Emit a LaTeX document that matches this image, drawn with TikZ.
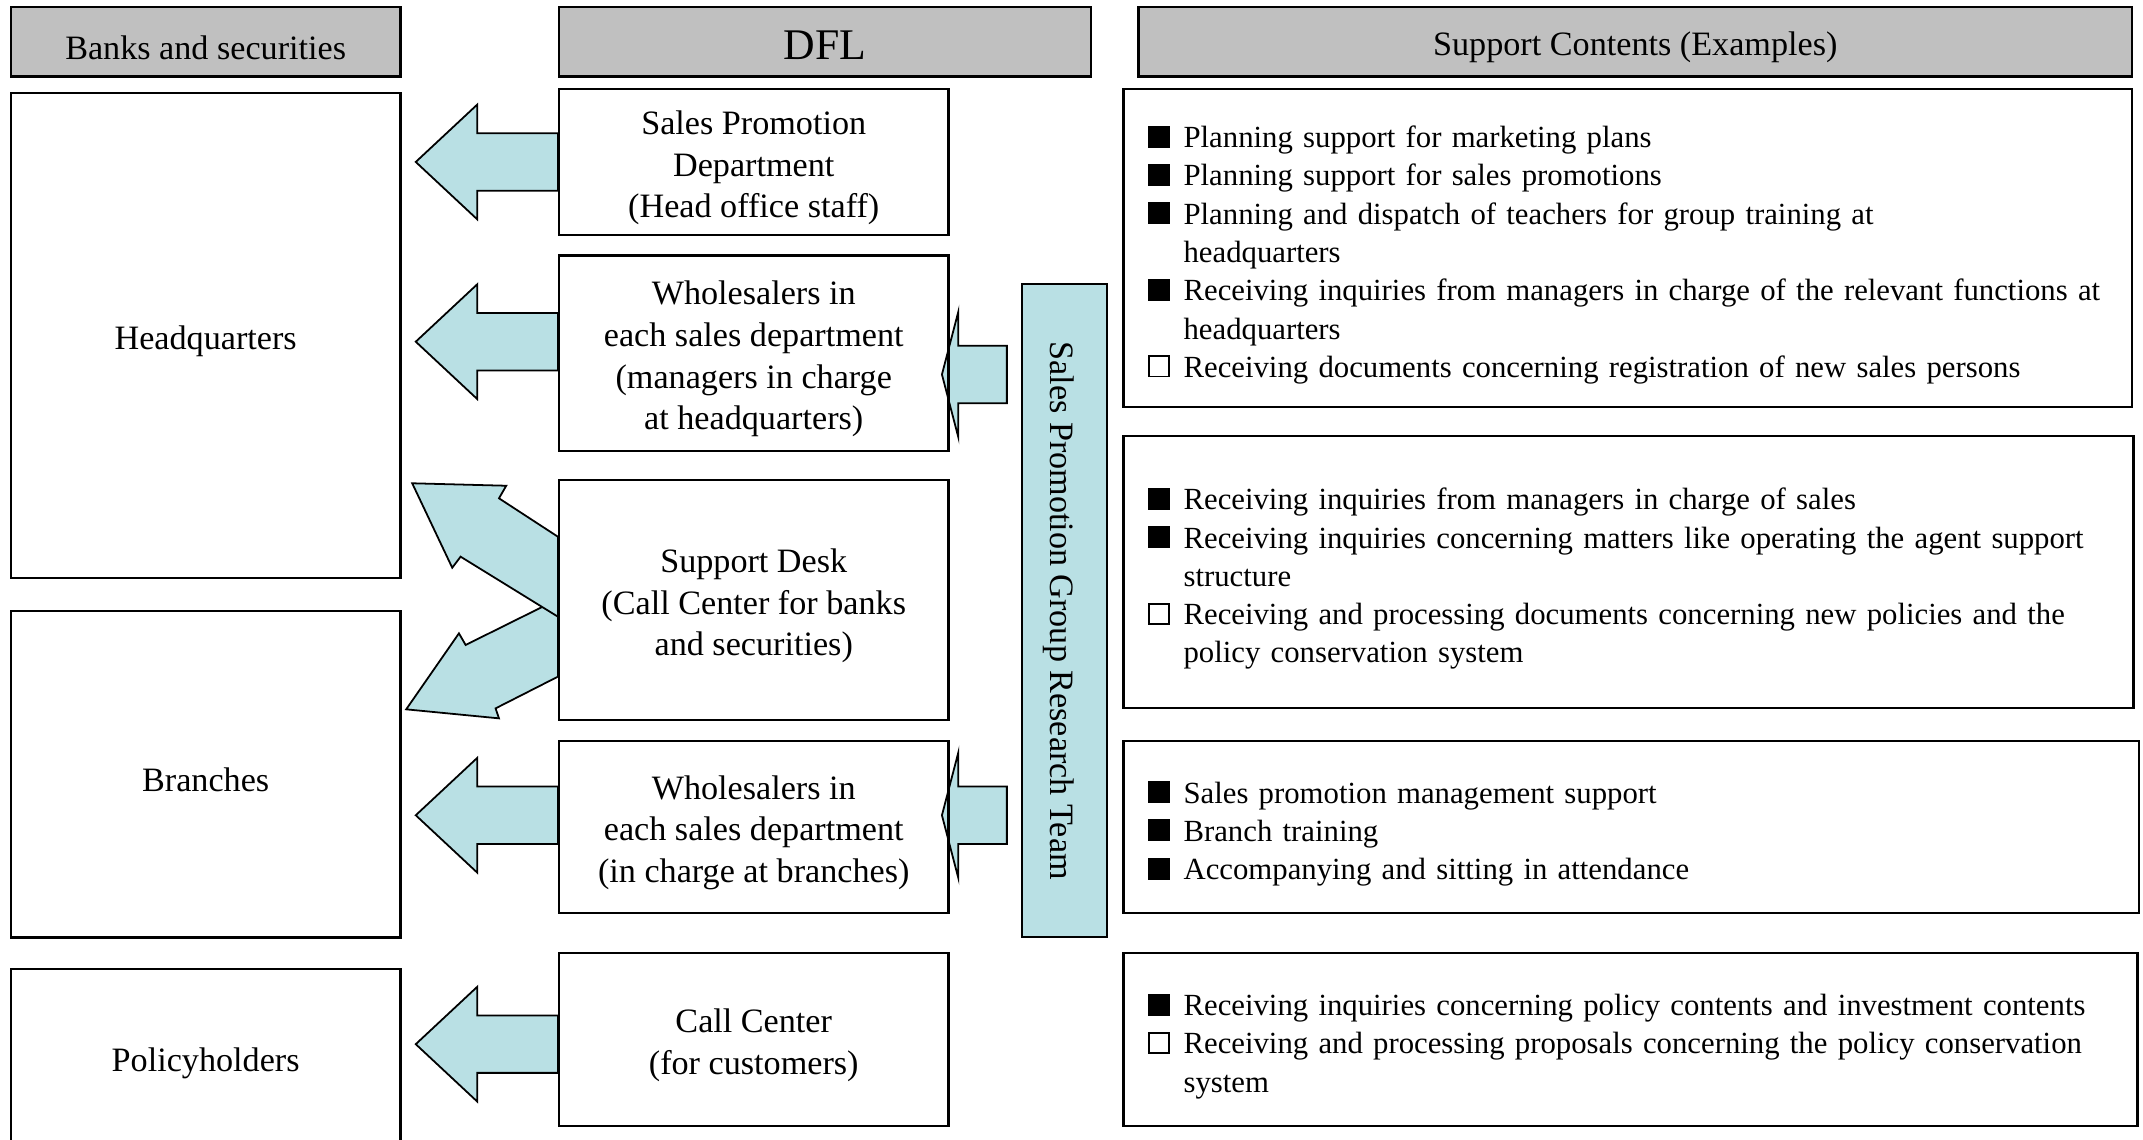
\documentclass[tikz,border=0pt]{standalone}
\usepackage{fontspec}
\setmainfont{Liberation Serif}
\usepackage{tikz}
\usetikzlibrary{calc,backgrounds}

\definecolor{headgray}{RGB}{192,192,192}
\definecolor{arrowblue}{RGB}{185,224,228}

\newcommand{\topgap}{\rule{0pt}{26pt}}
\newcommand{\blackitem}{\rule{16pt}{16pt}\hspace{10pt}}
\newcommand{\whiteitem}{\raisebox{1.3pt}{\setlength{\fboxsep}{0pt}\setlength{\fboxrule}{1.3pt}\fbox{\rule{0pt}{13.4pt}\rule{13.4pt}{0pt}}}\hspace{10pt}}
\newcommand{\wrapline}{\hspace*{26pt}}
% block arrows, #1 = middle of the shaft end
\newcommand{\leftblock}[1]{\draw[fatarrow] #1 ++(0,-21) -- ++(-59,0) -- ++(0,-21) -- ++(-45,42) -- ++(45,42) -- ++(0,-21) -- ++(59,0) -- cycle;}
\newcommand{\smallblock}[1]{\draw[fatarrow] #1 ++(0,-21) -- ++(-35.5,0) -- ++(0,-25) -- ++(-12,46) -- ++(12,46) -- ++(0,-25) -- ++(35.5,0) -- cycle;}

\begin{document}
\begin{tikzpicture}[x=1pt, y=-1pt,
        every node/.style = {shape=rectangle, draw, line width=1.6pt,
                             align=center, font=\fontsize{25}{30.5}\selectfont,
                             execute at begin node={\topgap}},
        header/.style = {fill=headgray, minimum height=51pt},
        side/.style = {minimum width=285pt},
        contents/.style = {align=left, text width=#1, inner xsep=18pt,
                           font=\fontsize{22.5}{28}\selectfont},
        fatarrow/.style = {draw, fill=arrowblue, line width=1.3pt}]
    \useasboundingbox (0,0) rectangle (1568,833.4);
    \clip (0,0) rectangle (1568,833.4);
    % column heads
    \node[header, side] (banks) at (150.5,30.5) {Banks and securities};
    \node[header, minimum width=389pt, font=\fontsize{32}{38}\selectfont] (dfl) at (603.5,30.5) {DFL};
    \node[header, minimum width=727pt] (examples) at (1196.5,30.5) {Support Contents (Examples)};
    % banks and securities
    \node[side, minimum height=355pt] (hq) at (150.5,245.5) {Headquarters};
    \node[side, minimum height=239pt] (branch) at (150.5,566.5) {Branches};
    \node[side, minimum height=129pt] (holder) at (150.5,773.5) {Policyholders};
    % DFL
    \node[side, minimum height=107pt] (spd) at (551.5,118.5) {\topgap Sales Promotion\\Department\\(Head office staff)};
    \node[side, minimum height=143pt] (whq) at (551.5,258.5) {\topgap Wholesalers in\\each sales department\\(managers in charge\\at headquarters)};
    \node[side, minimum height=176pt] (desk) at (551.5,439) {\topgap Support Desk\\(Call Center for banks\\and securities)};
    \node[side, minimum height=126pt] (wbr) at (551.5,605) {\topgap Wholesalers in\\each sales department\\(in charge at branches)};
    \node[side, minimum height=127pt] (call) at (551.5,760.5) {\topgap Call Center\\(for customers)};
    \node[fill=arrowblue, rotate=-90, minimum width=477.5pt, minimum height=62pt,
          execute at begin node={}] (team) at (779,446.75) {Sales Promotion Group Research Team};
    % support contents
    \node[contents=702pt, minimum height=233pt] (hqtasks) at (1191,181.5) {%
        \blackitem Planning support for marketing plans\\
        \blackitem Planning support for sales promotions\\
        \blackitem Planning and dispatch of teachers for group training at\\
        \wrapline headquarters\\
        \blackitem Receiving inquiries from managers in charge of the relevant functions at\\
        \wrapline headquarters\\
        \whiteitem Receiving documents concerning registration of new sales persons};
    \node[contents=703pt, minimum height=199pt] (desktasks) at (1191.5,418.5) {%
        \blackitem Receiving inquiries from managers in charge of sales\\
        \blackitem Receiving inquiries concerning matters like operating the agent support\\
        \wrapline structure\\
        \whiteitem Receiving and processing documents concerning new policies and the\\
        \wrapline policy conservation system};
    \node[contents=707pt, minimum height=126pt] (brtasks) at (1193.5,605) {%
        \blackitem Sales promotion management support\\
        \blackitem Branch training\\
        \blackitem Accompanying and sitting in attendance};
    \node[contents=706pt, minimum height=127pt] (calltasks) at (1193,760.5) {%
        \blackitem Receiving inquiries concerning policy contents and investment contents\\
        \whiteitem Receiving and processing proposals concerning the policy conservation\\
        \wrapline system};
    % block arrows behind the boxes
    \begin{pgfonlayer}{background}
        \leftblock{(spd.west)}
        \leftblock{($(whq.west)+(0,-8.5)$)}
        \leftblock{($(wbr.west)+(0,-8.5)$)}
        \leftblock{($(call.west)+(0,3.5)$)}
        \draw[fatarrow, shift={(desk.west)}] (0,56.1) -- (-45.6,79.3) -- (-43.1,86.6) -- (-111,80)
            -- (-72.4,24.4) -- (-67.5,32.9) -- (0,-0.6) -- cycle;
        \draw[fatarrow, shift={(desk.west)}] (0,-46.3) -- (-43.1,-74.4) -- (-37.8,-83.6) -- (-106.6,-85.4)
            -- (-77.3,-23.6) -- (-71.2,-31.7) -- (0,12.2) -- cycle;
        \smallblock{($(team.south |- whq.east)+(-10.5,15.5)$)}
        \smallblock{($(team.south |- wbr.east)+(-10.5,-8.5)$)}
    \end{pgfonlayer}
\end{tikzpicture}
\end{document}
